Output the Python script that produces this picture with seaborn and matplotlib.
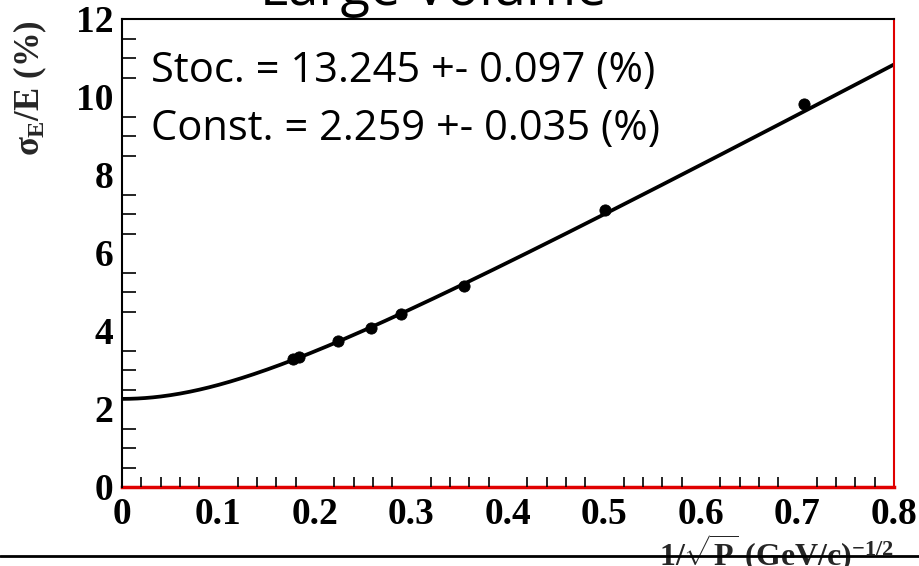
import numpy as np
import pandas as pd
import matplotlib
matplotlib.use("Agg")
import matplotlib.pyplot as plt
import seaborn as sns
from matplotlib.ticker import MultipleLocator

# ---- data ----
inv_sqrt_p = [0.177, 0.183, 0.224, 0.258, 0.289, 0.354, 0.500, 0.707]
sigma_e = [3.28, 3.33, 3.74, 4.08, 4.44, 5.15, 7.10, 9.82]
stoc = 13.245
stoc_err = 0.097
const = 2.259
const_err = 0.035
x_ticks = [0, 0.1, 0.2, 0.3, 0.4, 0.5, 0.6, 0.7, 0.8]
y_ticks = [0, 2, 4, 6, 8, 10, 12]

df = pd.DataFrame({"x": inv_sqrt_p, "y": sigma_e})
xf = np.linspace(0, 0.8, 400)
fit = pd.DataFrame({"x": xf, "y": np.sqrt((stoc * xf) ** 2 + const ** 2)})

sns.set_theme(style="white")
plt.rcParams["font.family"] = ["DejaVu Sans"]
plt.rcParams["mathtext.fontset"] = "custom"
plt.rcParams["mathtext.rm"] = "Liberation Serif:bold"
plt.rcParams["mathtext.it"] = "Liberation Serif:bold"
plt.rcParams["mathtext.bf"] = "Liberation Serif:bold"
plt.rcParams["mathtext.sf"] = "Liberation Serif:bold"

fig = plt.figure(figsize=(9.2, 5.66), dpi=100)
ax = fig.add_axes([122 / 920, 1 - 487 / 566, (894 - 122) / 920, (487 - 19) / 566])

sns.lineplot(data=fit, x="x", y="y", ax=ax, color="black", linewidth=2.7)
sns.scatterplot(data=df, x="x", y="y", ax=ax, color="black", s=65, edgecolor="black", zorder=5)

ax.set_xlim(0, 0.8)
ax.set_ylim(0, 12)
ax.set_xticks(x_ticks)
ax.set_yticks(y_ticks)
ax.set_xticklabels(["0" if v == 0 else f"{v:.1f}" for v in x_ticks])
ax.set_yticklabels([str(v) for v in y_ticks])
ax.xaxis.set_minor_locator(MultipleLocator(0.02))
ax.yaxis.set_minor_locator(MultipleLocator(0.5))
ax.tick_params(axis="x", which="major", direction="in", length=15, width=1.2, color="black", pad=7)
ax.tick_params(axis="x", which="minor", direction="in", length=7, width=1.2, color="black", bottom=True)
ax.tick_params(axis="y", which="major", direction="in", length=20, width=1.2, color="black", pad=6)
ax.tick_params(axis="y", which="minor", direction="in", length=10, width=1.2, color="black", left=True)
for lab in ax.get_xticklabels() + ax.get_yticklabels():
    lab.set_fontfamily("Liberation Serif")
    lab.set_fontweight("bold")
    lab.set_fontsize(27)
    lab.set_color("black")

ax.set_xlabel("")
ax.set_ylabel("")
for side in ["left", "top"]:
    ax.spines[side].set_color("black")
    ax.spines[side].set_linewidth(1.5)
ax.spines["bottom"].set_color("#e00000")
ax.spines["bottom"].set_linewidth(2.5)
ax.spines["right"].set_color("#e00000")
ax.spines["right"].set_linewidth(1.5)
ax.spines["bottom"].set_zorder(0)

ax.text(0.037, 0.866, f"Stoc. = {stoc:.3f} +- {stoc_err:.3f} (%)",
        transform=ax.transAxes, fontsize=30, family="Open Sans", color="black", va="baseline")
ax.text(0.037, 0.742, f"Const. = {const:.3f} +- {const_err:.3f} (%)",
        transform=ax.transAxes, fontsize=30, family="Open Sans", color="black", va="baseline")

# cut-off title
fig.text(433 / 920, 1 - 5 / 566, "Large Volume", fontsize=39, family="Open Sans",
         ha="center", va="baseline", color="black")

# y label
fig.text(30 / 920, 1 - 88 / 566, r"$\sigma_{\mathrm{E}}$/E (%)", rotation=90,
         fontsize=25, family="Liberation Serif", fontweight="bold", ha="center", va="center")

# x label
fig.text(777 / 920, 1 - 566 / 566, r"1/$\sqrt{\mathrm{P}}$ (GeV/c)$^{\mathrm{-1/2}}$",
         fontsize=23, family="Liberation Serif", fontweight="bold", ha="center", va="baseline")

# bottom separator line
fig.add_artist(plt.Line2D([0, 1], [1 - 556 / 566, 1 - 556 / 566], color="black", linewidth=2,
                          transform=fig.transFigure, zorder=10))

fig.savefig("out.png", dpi=100, facecolor="white")
